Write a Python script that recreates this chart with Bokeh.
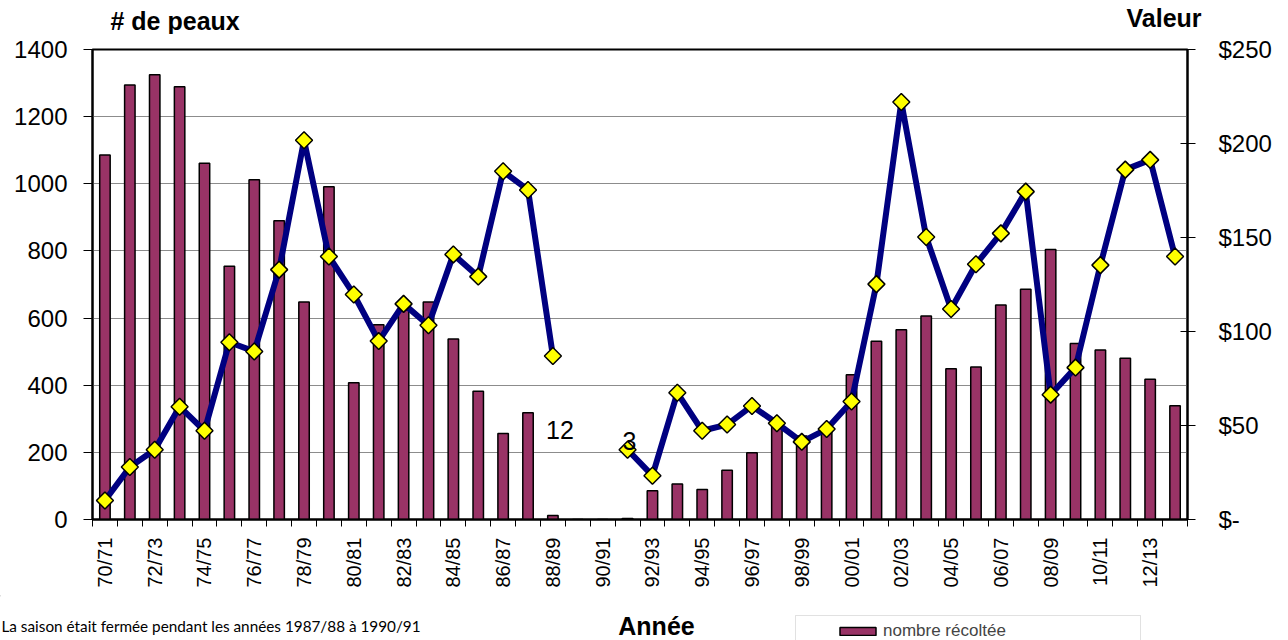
import math
from bokeh.plotting import figure
from bokeh.layouts import column
from bokeh.models import (Range1d, LinearAxis, FixedTicker, Label, Legend, LegendItem,
                          ColumnDataSource, BoxAnnotation)
from bokeh.core.properties import value
from bokeh.embed import file_html
from bokeh.resources import INLINE

# ---------------- data ----------------
seasons = ["70/71", "71/72", "72/73", "73/74", "74/75", "75/76", "76/77", "77/78",
           "78/79", "79/80", "80/81", "81/82", "82/83", "83/84", "84/85", "85/86",
           "86/87", "87/88", "88/89", "89/90", "90/91", "91/92", "92/93", "93/94",
           "94/95", "95/96", "96/97", "97/98", "98/99", "99/00", "00/01", "01/02",
           "02/03", "03/04", "04/05", "05/06", "06/07", "07/08", "08/09", "09/10",
           "10/11", "11/12", "12/13", "13/14"]

harvest = [1086, 1294, 1325, 1289, 1061, 754, 1012, 890, 648, 991, 407, 580,
           625, 648, 538, 382, 256, 318, 12, 0, 0, 3, 86, 106,
           89, 147, 199, 285, 249, 265, 431, 531, 565, 606, 449, 454,
           639, 686, 804, 524, 505, 480, 418, 339]

nan = float("nan")
pelt_value = [10.1, 27.9, 37.1, 60.0, 47.2, 94.3, 89.4, 132.9, 201.7, 139.9, 119.7, 94.9,
              114.7, 103.3, 141.0, 129.2, 185.2, 175.3, 87.0, nan, nan, 37.1, 23.3, 67.4,
              47.2, 50.5, 60.4, 51.2, 41.3, 48.1, 62.8, 125.2, 222.1, 150.3, 112.0, 135.8,
              152.2, 174.4, 66.4, 80.8, 135.3, 186.1, 191.3, 139.9]

left_ticks = [0, 200, 400, 600, 800, 1000, 1200, 1400]
right_ticks = [0, 50, 100, 150, 200, 250]
right_tick_labels = ["$-", "$50", "$100", "$150", "$200", "$250"]

labelled_seasons = ["88/89", "91/92"]   # bars carrying a data label

title_left = "# de peaux"
title_right = "Valeur"
x_title = "Année"
footnote = "La saison était fermée pendant les années 1987/88 à 1990/91"
legend_label = "nombre récoltée"

# ---------------- styles ----------------
FONT = "Liberation Sans"
BAR_COLOR = "#993366"
LINE_COLOR = "#000080"
MARKER_COLOR = "#FFFF00"
W = 1288
TOP_H, MAIN_H, BOT_H = 34, 561, 45


def blank_strip(height):
    f = figure(width=W, height=height, x_range=Range1d(0, W), y_range=Range1d(height, 0),
               x_axis_type=None, y_axis_type=None, output_backend="svg",
               toolbar_location=None, min_border=0)
    f.min_border_left = f.min_border_right = f.min_border_top = f.min_border_bottom = 0
    f.frame_align = False
    f.outline_line_color = None
    f.xgrid.grid_line_color = None
    f.ygrid.grid_line_color = None
    f.background_fill_color = "white"
    f.border_fill_color = "white"
    return f


def add_label(fig, text, x, y, size, bold=False, font=FONT, align="left"):
    fig.add_layout(Label(x=x, y=y, text=text, text_font=font, text_font_size=size,
                         text_font_style="bold" if bold else "normal",
                         text_align=align, text_baseline="alphabetic", text_color="black"))


# ---------------- top strip: axis titles ----------------
p_top = blank_strip(TOP_H)
add_label(p_top, title_left, 110, 20, "25px", bold=True)
add_label(p_top, title_right, 1126, 17, "25px", bold=True)

# ---------------- main chart ----------------
idx = list(range(len(seasons)))
src = ColumnDataSource(dict(x=idx, season=seasons, harvest=harvest, val=pelt_value))

p = figure(width=W, height=MAIN_H, x_range=Range1d(-0.5, len(seasons) - 0.5),
           y_range=Range1d(0, 1400), output_backend="svg", toolbar_location=None,
           min_border_left=92, min_border_right=101, min_border_top=15, min_border_bottom=76)
p.frame_align = False
p.extra_y_ranges = {"val": Range1d(0, 250)}

p.outline_line_color = "black"
p.outline_line_width = 2
p.background_fill_color = "white"
p.border_fill_color = "white"

p.xgrid.grid_line_color = None
p.ygrid.ticker = FixedTicker(ticks=left_ticks[1:-1])
p.ygrid.grid_line_color = "#8c8c8c"
p.ygrid.grid_line_width = 1

bars = p.vbar(x="x", top="harvest", width=0.42, source=src, fill_color=BAR_COLOR,
              line_color="black", line_width=1.5)

p.line(x="x", y="val", source=src, y_range_name="val", line_color=LINE_COLOR,
       line_width=6, line_join="round")
p.scatter(x="x", y="val", source=src, y_range_name="val", marker="square",
          angle=math.pi / 4, size=12, fill_color=MARKER_COLOR, line_color="black",
          line_width=1.5)

lab_idx = [seasons.index(s) for s in labelled_seasons]
lab_src = ColumnDataSource(dict(x=lab_idx, y=[harvest[i] for i in lab_idx],
                                t=[str(harvest[i]) for i in lab_idx],
                                dx=[7, 2], dy=[-85, -77]))
p.text(x="x", y="y", text="t", source=lab_src, x_offset="dx", y_offset="dy",
       text_font=value(FONT), text_font_size="25px", text_align="center",
       text_baseline="middle", text_color="black")

xax = p.xaxis[0]
xax.ticker = FixedTicker(ticks=[i for i in idx if i % 2 == 0],
                         minor_ticks=[i - 0.5 for i in range(len(seasons) + 1)])
xax.major_label_overrides = {i: seasons[i] for i in idx if i % 2 == 0}
xax.major_label_orientation = math.pi / 2
xax.major_tick_line_color = None
xax.major_tick_out = 0
xax.major_tick_in = 0
xax.minor_tick_line_color = "black"
xax.minor_tick_out = 7
xax.minor_tick_in = 0
xax.major_label_standoff = 11
xax.axis_line_color = "black"
xax.axis_line_width = 2
xax.major_label_text_font = FONT
xax.major_label_text_font_size = "20px"
xax.major_label_text_color = "black"

yax = p.yaxis[0]
yax.ticker = FixedTicker(ticks=left_ticks)
yax.minor_tick_line_color = None
yax.major_tick_out = 9
yax.major_tick_in = 0
yax.major_tick_line_color = "black"
yax.major_label_standoff = 16
yax.axis_line_color = "black"
yax.axis_line_width = 2
yax.major_label_text_font = FONT
yax.major_label_text_font_size = "24px"
yax.major_label_text_color = "black"

rax = LinearAxis(y_range_name="val", ticker=FixedTicker(ticks=right_ticks),
                 major_label_overrides=dict(zip(right_ticks, right_tick_labels)))
rax.minor_tick_line_color = None
rax.major_tick_out = 8
rax.major_tick_in = 7
rax.major_tick_line_color = "black"
rax.major_label_standoff = 23
rax.axis_line_color = "black"
rax.axis_line_width = 2
rax.major_label_text_font = FONT
rax.major_label_text_font_size = "24px"
rax.major_label_text_color = "black"
p.add_layout(rax, "right")

# ---------------- bottom strip: x title, footnote, legend ----------------
p_bot = blank_strip(BOT_H)
add_label(p_bot, x_title, 656, 30, "25px", bold=True, align="center")
add_label(p_bot, footnote, 1, 30, "15.3px", font="Lato")

p_bot.add_layout(BoxAnnotation(left=795, right=1140, top=20, bottom=BOT_H + 20,
                               fill_alpha=0, line_color="#9a9a9a", line_width=1))
legend_swatch = p_bot.vbar(x=[-100], top=[-100], width=1, fill_color=BAR_COLOR,
                           line_color="black", line_width=1.5)
legend = Legend(items=[LegendItem(label=legend_label, renderers=[legend_swatch])],
                location=(835, -1), padding=0, margin=0, spacing=0,
                border_line_alpha=0, background_fill_alpha=0,
                glyph_width=45, glyph_height=10, label_standoff=3, label_height=20,
                label_text_font=FONT, label_text_font_size="17px")
p_bot.add_layout(legend, "center")

layout = column(p_top, p, p_bot, spacing=0)
open("out.html", "w").write(file_html(layout, INLINE))
